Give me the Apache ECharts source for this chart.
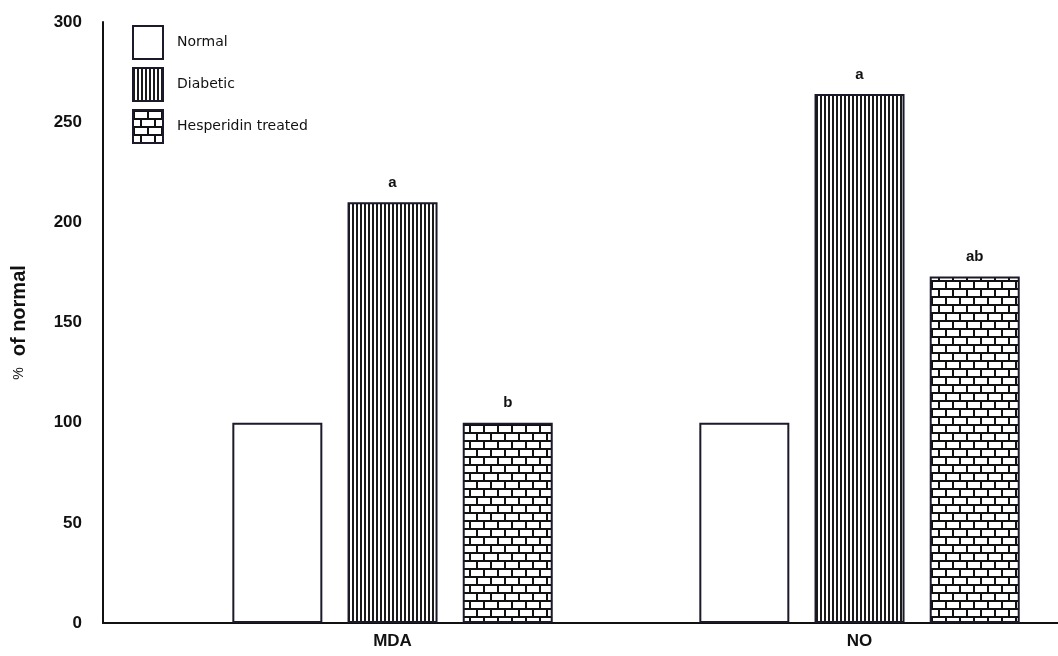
<!DOCTYPE html>
<html>
<head>
<meta charset="utf-8">
<script src="https://cdn.jsdelivr.net/npm/echarts@6/dist/echarts.min.js"></script>
<style>
html,body{margin:0;padding:0;background:#fff;}
#chart{width:1058px;height:656px;}
</style>
</head>
<body>
<div id="chart"></div>
<script>
// ---- data ----
var categories = ['MDA', 'NO'];
var seriesNames = ['Normal', 'Diabetic', 'Hesperidin treated'];
var normalValues = [100, 100];
var diabeticValues = [210, 264];
var hesperidinValues = [100, 173];
var normalLabels = ['', ''];
var diabeticLabels = ['a', 'a'];
var hesperidinLabels = ['b', 'ab'];
var yTicks = [0, 50, 100, 150, 200, 250, 300];

// ---- patterns ----
function stripePattern() {
  var c = document.createElement('canvas');
  c.width = 4; c.height = 4;
  var g = c.getContext('2d');
  g.fillStyle = '#ffffff'; g.fillRect(0, 0, 4, 4);
  g.fillStyle = '#1a1a1a'; g.fillRect(0, 0, 2, 4);
  return c;
}
function brickPattern() {
  var w = 14, h = 16;
  var c = document.createElement('canvas');
  c.width = w; c.height = h;
  var g = c.getContext('2d');
  g.fillStyle = '#ffffff'; g.fillRect(0, 0, w, h);
  g.fillStyle = '#111111';
  g.fillRect(0, 0, w, 2);
  g.fillRect(0, 8, w, 2);
  g.fillRect(0, 0, 2, 8);
  g.fillRect(7, 8, 2, 8);
  return c;
}

function toPoints(vals) {
  return vals.map(function (v, i) { return [i + 1, v]; });
}
function labelFn(arr) {
  return function (p) { return arr[p.dataIndex]; };
}

var labelStyle = {
  show: true, position: 'top', distance: 12,
  fontFamily: 'Liberation Sans, Arial', fontWeight: 'bold', fontSize: 15, color: '#111'
};

var chart = echarts.init(document.getElementById('chart'), null, { renderer: 'canvas' });
var option = {
  backgroundColor: '#ffffff',
  animation: false,
  grid: { left: 103, right: 0, top: 22, bottom: 33, containLabel: false },
  legend: {
    orient: 'vertical', left: 132, top: 25, padding: 0,
    itemWidth: 30, itemHeight: 33, itemGap: 7,
    icon: 'rect',
    textStyle: { fontFamily: 'DejaVu Sans', fontSize: 14, color: '#111', padding: [0, 0, 0, 9] },
    data: seriesNames
  },
  xAxis: {
    type: 'value', min: 0.38, max: 2.425,
    axisLine: { show: true, onZero: false, lineStyle: { color: '#111', width: 2 } },
    axisTick: { show: false },
    splitLine: { show: false },
    axisLabel: {
      customValues: [1, 2],
      formatter: function (v) { return categories[Math.round(v) - 1] || ''; },
      fontFamily: 'Liberation Sans, Arial', fontWeight: 'bold', fontSize: 17, color: '#111', margin: 10
    }
  },
  yAxis: {
    type: 'value', min: 0, max: 300, interval: 50,
    name: '{p|%}  of normal', nameLocation: 'middle', nameGap: 74,
    nameTextStyle: {
      fontFamily: 'Liberation Sans, Arial', fontWeight: 'bold', fontSize: 20, color: '#111',
      rich: { p: { fontFamily: 'Liberation Sans, Arial', fontWeight: 'normal', fontSize: 14, color: '#111' } }
    },
    axisLine: { show: true, onZero: false, lineStyle: { color: '#111', width: 2 } },
    axisTick: { show: false },
    splitLine: { show: false },
    axisLabel: {
      customValues: yTicks,
      fontFamily: 'Liberation Sans, Arial', fontWeight: 'bold', fontSize: 17, color: '#111', margin: 21
    }
  },
  series: [
    {
      name: seriesNames[0], type: 'bar', data: toPoints(normalValues),
      barWidth: 90, barGap: '28%',
      itemStyle: { color: '#ffffff', borderColor: '#1a1a2a', borderWidth: 2 },
      label: Object.assign({}, labelStyle, { formatter: labelFn(normalLabels) })
    },
    {
      name: seriesNames[1], type: 'bar', data: toPoints(diabeticValues),
      barWidth: 90, barGap: '28%',
      itemStyle: { color: { image: stripePattern(), repeat: 'repeat' }, borderColor: '#1a1a2a', borderWidth: 2 },
      label: Object.assign({}, labelStyle, { formatter: labelFn(diabeticLabels) })
    },
    {
      name: seriesNames[2], type: 'bar', data: toPoints(hesperidinValues),
      barWidth: 90, barGap: '28%',
      itemStyle: { color: { image: brickPattern(), repeat: 'repeat' }, borderColor: '#1a1a2a', borderWidth: 2 },
      label: Object.assign({}, labelStyle, { formatter: labelFn(hesperidinLabels) })
    }
  ]
};
chart.setOption(option);
</script>
</body>
</html>
